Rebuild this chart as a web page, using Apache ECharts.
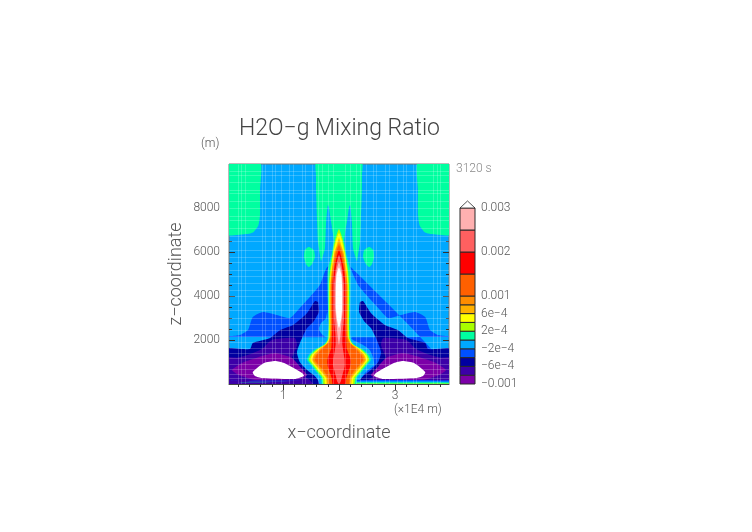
<!DOCTYPE html>
<html>
<head>
<meta charset="utf-8">
<style>
  html, body { margin: 0; padding: 0; background: #fff; }
  #chart { width: 752px; height: 532px; }
</style>
<script src="https://cdn.jsdelivr.net/npm/echarts@6/dist/echarts.min.js"></script>
</head>
<body>
<div id="chart"></div>
<script>
// axis ranges and ticks (x in 1E4 m, z in m)
var xRange = [0.036, 3.964];
var zRange = [0, 10000];
var xMajor = [1, 2, 3];
var xMinor = [0.2, 0.4, 0.6, 0.8, 1.2, 1.4, 1.6, 1.8, 2.2, 2.4, 2.6, 2.8, 3.2, 3.4, 3.6, 3.8];
var zMajor = [2000, 4000, 6000, 8000];
var zMinor = [500, 1000, 1500, 2500, 3000, 3500, 4500, 5000, 5500, 6500, 7000, 7500, 8500, 9000, 9500];

// colour bands, bottom to top
var levels = [-0.001, -0.0008, -0.0006, -0.0004, -0.0002, 0, 0.0002, 0.0004, 0.0006, 0.0008, 0.001, 0.0015, 0.002, 0.0025, 0.003];
var bandColors = ['#7c00a8', '#3c00a8', '#0000a0', '#0050ff', '#00a8ff', '#00ffa0', '#a8ff00', '#ffff00', '#ffb000', '#ff8c00', '#ff6000', '#ff0000', '#ff6060', '#ffb0b0'];
var barTicks = [-0.001, -0.0006, -0.0002, 0.0002, 0.0006, 0.001, 0.002, 0.003];
var barLabels = ['\u22120.001', '\u22126e\u22124', '\u22122e\u22124', '2e\u22124', '6e\u22124', '0.001', '0.002', '0.003'];

// contours, [x, z], left half of the domain
var tealCorner = [[-0.1, 10100], [0.59, 10100], [0.59, 8800], [0.59, 7700], [0.56, 7200], [0.47, 6900], [0.36, 6818], [-0.1, 6818]];
var tealCentre = [[2, 10100], [1.59, 10100], [1.59, 9500], [1.59, 8909], [1.61, 7364], [1.625, 6455], [1.66, 5864], [1.68, 5591], [1.71, 5800], [1.75, 6182], [1.77, 7364], [1.80, 8136], [1.82, 8050], [1.84, 7682], [1.86, 7364], [1.89, 6864], [1.91, 6545], [2, 6400]];
var tealBlob = [[1.46, 6227], [1.39, 6091], [1.375, 5773], [1.41, 5455], [1.46, 5318], [1.52, 5455], [1.57, 5773], [1.55, 6091]];
var blueArea = [[-0.1, 2136], [0.23, 2227], [0.375, 2455], [0.46, 3045], [0.64, 3273], [0.89, 3136], [1.125, 3000], [1.30, 3455], [1.48, 3955], [1.66, 4500], [1.79, 5318], [2, 5318], [2, -100], [-0.1, -100]];
var navyArea = [[-0.1, 1591], [0.41, 1591], [0.46, 1864], [0.77, 2091], [0.95, 2455], [1.18, 2682], [1.43, 3227], [1.57, 3773], [1.625, 3727], [1.64, 3273], [1.54, 2818], [1.43, 2545], [1.34, 2091], [1.25, 1455], [1.30, 1000], [1.43, 636], [1.61, 273], [1.66, -50], [-0.1, -50]];
var indigoArea = [[-0.1, 1180], [0.2, 1200], [0.41, 1350], [0.625, 1590], [0.77, 1950], [0.86, 2045], [1.21, 2091], [1.25, 1773], [1.18, 1318], [1.14, 1000], [1.25, 500], [1.43, 273], [1.55, -50], [-0.1, -50]];
var purpleArea = [[0.09, 636], [0.27, 955], [0.57, 1227], [0.86, 1409], [1.16, 1182], [1.30, 800], [1.43, 409], [1.29, 227], [0.5, 182], [0.21, 409]];
var whiteHole = [[0.46, 545], [0.66, 955], [0.86, 1045], [1.02, 955], [1.34, 500], [1.375, 364], [1.21, 227], [0.625, 273], [0.5, 364]];
var azurePocket = [[1.79, 3270], [1.76, 2950], [1.68, 2773], [1.64, 2500], [1.70, 2250], [1.79, 2091], [1.82, 2300], [1.80, 2900]];
var azureBase = [[2, 2200], [1.79, 2091], [1.75, 2000], [1.57, 1773], [1.45, 1545], [1.39, 1182], [1.375, 864], [1.52, 545], [1.625, 182], [1.66, -50], [2, -50]];
var stripBlue = [[-0.1, 160], [2, 160], [2, -50], [-0.1, -50]];
var stripAzure = [[-0.1, 110], [2, 110], [2, -50], [-0.1, -50]];
var stripTeal = [[-0.1, 70], [2, 70], [2, -50], [-0.1, -50]];
var stripLime = [[-0.1, 20], [2, 20], [2, -50], [-0.1, -50]];
var plumeTeal = [[2, 7100], [1.91, 6545], [1.875, 5955], [1.80, 5182], [1.80, 3818], [1.81, 2700], [1.79, 2000], [1.72, 1773], [1.554, 1545], [1.464, 1318], [1.43, 1091], [1.5, 864], [1.57, 636], [1.68, 273], [1.70, -50], [2, -50]];
var plumeLime = [[2, 7045], [1.96, 6800], [1.93, 6545], [1.887, 5955], [1.84, 5182], [1.82, 4500], [1.82, 2700], [1.81, 2050], [1.75, 1800], [1.60, 1570], [1.495, 1318], [1.46, 1091], [1.53, 864], [1.60, 636], [1.71, 273], [1.73, -50], [2, -50]];
var plumeYellow = [[2, 6860], [1.95, 6545], [1.9, 5955], [1.855, 5182], [1.834, 4500], [1.834, 2700], [1.825, 2100], [1.77, 1830], [1.63, 1590], [1.52, 1318], [1.49, 1091], [1.555, 864], [1.625, 636], [1.74, 273], [1.76, -50], [2, -50]];
var plumeAmber = [[2, 6640], [1.96, 6300], [1.915, 5955], [1.87, 5182], [1.845, 4500], [1.845, 2700], [1.835, 2150], [1.79, 1860], [1.66, 1610], [1.55, 1318], [1.52, 1091], [1.58, 864], [1.66, 636], [1.77, 273], [1.79, -50], [2, -50]];
var plumeOrange = [[2, 6410], [1.93, 5955], [1.88, 5182], [1.854, 4500], [1.854, 2700], [1.85, 2200], [1.81, 1890], [1.69, 1630], [1.575, 1318], [1.54, 1091], [1.61, 864], [1.69, 636], [1.79, 273], [1.81, -50], [2, -50]];
var plumeDeep = [[2, 6320], [1.94, 5900], [1.89, 5182], [1.864, 4500], [1.864, 2700], [1.86, 2250], [1.83, 1920], [1.72, 1650], [1.60, 1318], [1.57, 1091], [1.635, 864], [1.72, 636], [1.81, 273], [1.83, -50], [2, -50]];
var plumeRed = [[2, 6090], [1.96, 5800], [1.91, 5182], [1.882, 4500], [1.882, 2700], [1.87, 2000], [1.86, 1600], [1.80, 1200], [1.79, 1000], [1.80, 800], [1.84, 500], [1.87, 250], [1.89, -50], [2, -50]];
var plumeSalmon = [[2, 5860], [1.96, 5500], [1.93, 5000], [1.91, 4500], [1.91, 3000], [1.935, 2300], [1.94, 1800], [1.90, 1100], [1.90, 800], [1.94, 400], [1.97, 100], [2, 0]];
var plumePink = [[2, 5545], [1.96, 5200], [1.94, 4800], [1.932, 4300], [1.932, 3400], [1.955, 2800], [1.975, 2200], [2, 1773]];
var plumeWhite = [[2, 5300], [1.96, 5000], [1.946, 4500], [1.946, 3400], [1.96, 3000], [1.985, 2650], [2, 2545]];

// lighter seams across the field
var seamX = [0.196, 0.25, 0.32, 0.625, 0.68, 0.80, 0.86, 0.96, 1.11, 1.18, 1.34, 1.39, 1.52, 1.625, 1.70, 1.80, 1.89];
var seamZ = [9682, 9500, 9182, 8818, 8682, 8318, 8000, 7636, 7455, 7091, 6727, 6500, 6091, 5773, 5545, 5182, 4909, 4591, 4273, 4000, 3636, 3364, 3000, 2727, 2455, 2182, 1909, 1636, 1409, 1182, 909, 682, 455, 273];

var textColor = '#555';
var fontName = 'Roboto';

// painter's order, outer levels first
var shapes = [];

function flip(pts) {
    return pts.map(function (p) { return [4 - p[0], p[1]]; });
}
// one closed contour on each side of x = 2
function addPair(color, pts) {
    shapes.push({ color: color, pts: pts });
    shapes.push({ color: color, pts: flip(pts) });
}
// a contour that runs across x = 2, the right half is the left half turned over
function addAcross(color, pts) {
    var right = flip(pts).reverse().filter(function (p) { return p[0] !== 2; });
    shapes.push({ color: color, pts: pts.concat(right) });
}

addPair(bandColors[5], tealCorner);
addAcross(bandColors[5], tealCentre);
addPair(bandColors[5], tealBlob);
addAcross(bandColors[3], blueArea);
addPair(bandColors[2], navyArea);
addPair(bandColors[1], indigoArea);
addPair(bandColors[0], purpleArea);
addPair('#ffffff', whiteHole);
addPair(bandColors[4], azurePocket);
addAcross(bandColors[4], azureBase);
addAcross(bandColors[3], stripBlue);
addAcross(bandColors[4], stripAzure);
addAcross(bandColors[5], stripTeal);
addAcross(bandColors[6], stripLime);
addAcross(bandColors[5], plumeTeal);
addAcross(bandColors[6], plumeLime);
addAcross(bandColors[7], plumeYellow);
addAcross(bandColors[8], plumeAmber);
addAcross(bandColors[9], plumeOrange);
addAcross(bandColors[10], plumeDeep);
addAcross(bandColors[11], plumeRed);
addAcross(bandColors[12], plumeSalmon);
addAcross(bandColors[13], plumePink);
addAcross('#ffffff', plumeWhite);

var seams = [];
seamX.forEach(function (v) {
    seams.push([v, zRange[0], v, zRange[1]]);
    seams.push([4 - v, zRange[0], 4 - v, zRange[1]]);
});
seamZ.forEach(function (v) {
    seams.push([xRange[0], v, xRange[1], v]);
});

function renderShape(params, api) {
    var s = shapes[params.dataIndex];
    return {
        type: 'polygon',
        shape: { points: s.pts.map(function (p) { return api.coord(p); }), smooth: 0.18 },
        style: { fill: s.color }
    };
}

function renderSeam(params, api) {
    var s = seams[params.dataIndex];
    var a = api.coord([s[0], s[1]]);
    var b = api.coord([s[2], s[3]]);
    return {
        type: 'line',
        shape: { x1: Math.round(a[0]) + 0.5, y1: Math.round(a[1]) + 0.5, x2: Math.round(b[0]) + 0.5, y2: Math.round(b[1]) + 0.5 },
        style: { stroke: 'rgba(255,255,255,0.2)', lineWidth: 1 }
    };
}

function renderBand(params, api) {
    var i = params.dataIndex;
    var a = api.coord([0, levels[i + 1]]);
    var b = api.coord([1, levels[i]]);
    return {
        type: 'rect',
        shape: { x: a[0], y: a[1], width: b[0] - a[0], height: b[1] - a[1] },
        style: { fill: bandColors[i], stroke: '#2a2a2a', lineWidth: 1 }
    };
}

function renderArrow(params, api) {
    var top = levels[levels.length - 1];
    return {
        type: 'polygon',
        shape: { points: [api.coord([0, top]), api.coord([0.5, top + 0.00016]), api.coord([1, top])] },
        style: { fill: '#ffffff', stroke: '#2a2a2a', lineWidth: 0.8 }
    };
}

// ticks point inwards on all four sides, long at the major values
function xAxisAt(position, values, len, extra) {
    return Object.assign({
        type: 'value', gridIndex: 0, position: position, min: xRange[0], max: xRange[1],
        axisLine: { show: false },
        axisTick: { show: true, inside: true, length: len, customValues: values, lineStyle: { color: '#333', width: 1 } },
        axisLabel: { show: false },
        splitLine: { show: false }
    }, extra);
}
function zAxisAt(position, values, len, extra) {
    return Object.assign({
        type: 'value', gridIndex: 0, position: position, min: zRange[0], max: zRange[1],
        axisLine: { show: false },
        axisTick: { show: true, inside: true, length: len, customValues: values, lineStyle: { color: '#333', width: 1 } },
        axisLabel: { show: false },
        splitLine: { show: false }
    }, extra);
}

var chart = echarts.init(document.getElementById('chart'));
chart.setOption({
    animation: false,
    backgroundColor: '#ffffff',
    title: {
        text: 'H2O\u2212g Mixing Ratio',
        left: 234, top: 113,
        textStyle: { fontFamily: fontName, fontSize: 23, fontWeight: 300, color: '#444' }
    },
    grid: [
        { left: 229, top: 164, width: 220, height: 220, show: true, borderColor: '#777', borderWidth: 1, backgroundColor: bandColors[4] },
        { left: 460, top: 208, width: 15, height: 176 }
    ],
    xAxis: [
        xAxisAt('bottom', xMajor, 6, {
            axisLine: { show: true, lineStyle: { color: '#444', width: 1 } },
            axisLabel: {
                show: true, customValues: xMajor, margin: 6,
                fontFamily: fontName, fontSize: 12, fontWeight: 300, color: textColor
            },
            name: 'x\u2212coordinate', nameLocation: 'middle', nameGap: 40,
            nameTextStyle: { fontFamily: fontName, fontSize: 18, fontWeight: 300, color: textColor }
        }),
        xAxisAt('bottom', xMinor, 3),
        xAxisAt('top', xMajor, 6),
        xAxisAt('top', xMinor, 3),
        { type: 'value', gridIndex: 1, min: 0, max: 1, show: false }
    ],
    yAxis: [
        zAxisAt('left', zMajor, 6, {
            axisLabel: {
                show: true, customValues: zMajor, margin: 9,
                fontFamily: fontName, fontSize: 12, fontWeight: 300, color: textColor,
                formatter: function (v) { return String(v); }
            },
            name: 'z\u2212coordinate', nameLocation: 'middle', nameGap: 44,
            nameTextStyle: { fontFamily: fontName, fontSize: 18, fontWeight: 300, color: textColor }
        }),
        zAxisAt('left', zMinor, 3),
        zAxisAt('right', zMajor, 6),
        zAxisAt('right', zMinor, 3),
        {
            type: 'value', gridIndex: 1, position: 'right', min: levels[0], max: levels[levels.length - 1],
            axisLine: { show: false },
            axisTick: { show: false },
            splitLine: { show: false },
            axisLabel: {
                customValues: barTicks, margin: 6,
                fontFamily: fontName, fontSize: 12, fontWeight: 300, color: textColor,
                formatter: function (v) {
                    for (var i = 0; i < barTicks.length; i++) {
                        if (Math.abs(barTicks[i] - v) < 1e-9) return barLabels[i];
                    }
                    return '';
                }
            }
        }
    ],
    series: [
        {
            type: 'custom', xAxisIndex: 0, yAxisIndex: 0, clip: true, silent: true,
            renderItem: renderShape,
            data: shapes.map(function (s, i) { return [i]; })
        },
        {
            type: 'custom', xAxisIndex: 0, yAxisIndex: 0, clip: true, silent: true,
            renderItem: renderSeam,
            data: seams.map(function (s, i) { return [i]; })
        },
        {
            type: 'custom', xAxisIndex: 4, yAxisIndex: 4, silent: true,
            renderItem: renderBand,
            data: bandColors.map(function (c, i) { return [i]; })
        },
        {
            type: 'custom', xAxisIndex: 4, yAxisIndex: 4, silent: true,
            renderItem: renderArrow,
            data: [[0]]
        }
    ],
    graphic: [
        { type: 'text', left: 201, top: 138, style: { text: '(m)', fontFamily: fontName, fontSize: 12, fontWeight: 300, fill: textColor } },
        { type: 'text', left: 456, top: 163, style: { text: '3120 s', fontFamily: fontName, fontSize: 12, fontWeight: 300, fill: '#8a8a8a' } },
        { type: 'text', left: 394, top: 404, style: { text: '(\u00d71E4 m)', fontFamily: fontName, fontSize: 12, fontWeight: 300, fill: textColor } }
    ]
});
</script>
</body>
</html>
